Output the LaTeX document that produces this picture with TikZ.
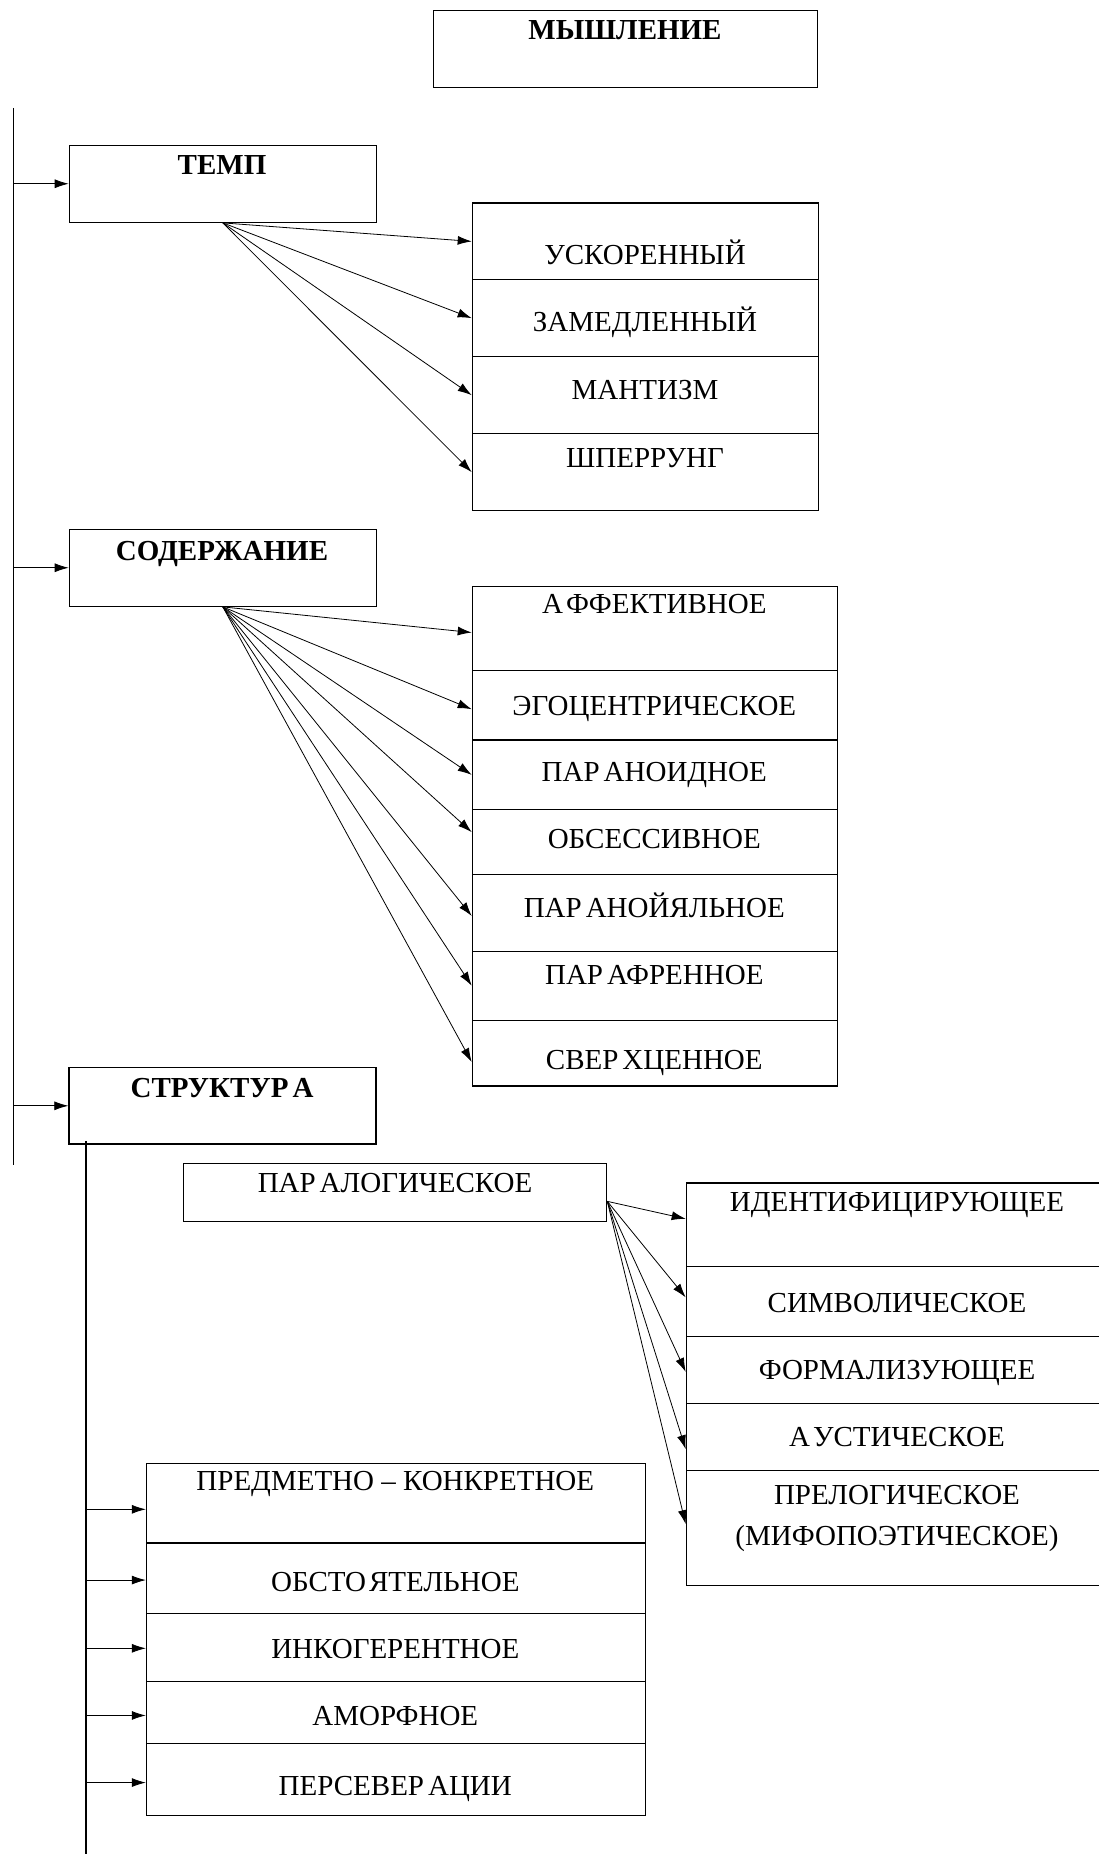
\documentclass[tikz,border=0pt]{standalone}
\usepackage{fontspec}
\setmainfont{Liberation Serif}
\usetikzlibrary{arrows.meta}
\tikzset{
  box/.style={draw, line width=1.3pt, rectangle, inner sep=0pt, anchor=north west},
  lbl/.style={anchor=base, inner sep=0pt, font=\fontsize{29}{34}\selectfont},
  blbl/.style={lbl, font=\fontsize{29}{34}\selectfont\bfseries},
  arr/.style={-{Latex[length=14pt,width=9pt]}, line width=0.8pt},
  trunk/.style={line width=1.2pt}
}
\begin{document}
\begin{tikzpicture}[x=1pt,y=-1pt]
\clip (0,0) rectangle (1099,1854);
% top box
\node[box, minimum width=384pt, minimum height=77pt] (main) at (433,10) {};
\node[blbl] (mainT) at (625,40) {МЫШЛЕНИЕ};
% trunk
\coordinate (trTop) at (13.5,108);
\coordinate (trBot) at (13.5,1165);
\draw[trunk] (trTop) -- (trBot);
% ТЕМП
\node[box, minimum width=307pt, minimum height=77pt] (temp) at (68.7,144.6) {};
\node[blbl] (tempT) at (222,175) {ТЕМП};
\draw[arr] (trTop |- temp.west) -- (temp.west);
% tempo list
\node[box, minimum width=346pt, minimum height=76.5pt] (t1) at (471.7,202.5) {};
\node[box, minimum width=346pt, minimum height=77pt] (t2) at (471.7,279) {};
\node[box, minimum width=346pt, minimum height=77pt] (t3) at (471.7,356) {};
\node[box, minimum width=346pt, minimum height=77pt] (t4) at (471.7,433) {};
\node[lbl] (t1T) at (645,264) {УСКОРЕННЫЙ};
\node[lbl] (t2T) at (645,331) {ЗАМЕДЛЕННЫЙ};
\node[lbl] (t3T) at (645,399) {МАНТИЗМ};
\node[lbl] (t4T) at (645,467) {ШПЕРРУНГ};
\foreach \n in {t1,t2,t3,t4}{\draw[arr] (temp.south) -- (\n.west);}
% СОДЕРЖАНИЕ
\node[box, minimum width=307pt, minimum height=77pt] (cont) at (68.7,528.6) {};
\node[blbl] (contT) at (222,560) {СОДЕРЖАНИЕ};
\draw[arr] (trTop |- cont.west) -- (cont.west);
% content list
\node[box, minimum width=365pt, minimum height=83.7pt] (c1) at (471.7,586) {};
\node[box, minimum width=365pt, minimum height=69.7pt] (c2) at (471.7,669.7) {};
\node[box, minimum width=365pt, minimum height=69.6pt] (c3) at (471.7,739.4) {};
\node[box, minimum width=365pt, minimum height=65pt] (c4) at (471.7,809) {};
\node[box, minimum width=365pt, minimum height=76.6pt] (c5) at (471.7,874) {};
\node[box, minimum width=365pt, minimum height=68.9pt] (c6) at (471.7,950.6) {};
\node[box, minimum width=365pt, minimum height=65.8pt] (c7) at (471.7,1019.5) {};
\node[lbl] (c1T) at (654.3,613) {А\kern3ptФФЕКТИВНОЕ};
\node[lbl] (c2T) at (654.3,715) {ЭГОЦЕНТРИЧЕСКОЕ};
\node[lbl] (c3T) at (654.3,781) {ПАР\kern4ptАНОИДНОЕ};
\node[lbl] (c4T) at (654.3,848) {ОБСЕССИВНОЕ};
\node[lbl] (c5T) at (654.3,917) {ПАР\kern4ptАНОЙЯЛЬНОЕ};
\node[lbl] (c6T) at (654.3,984) {ПАР\kern4ptАФРЕННОЕ};
\node[lbl] (c7T) at (654.3,1069) {СВЕР\kern4ptХЦЕННОЕ};
\draw[arr] (cont.south) -- ([yshift=-4pt]c1.west);
\draw[arr] (cont.south) -- ([yshift=-4pt]c2.west);
\draw[arr] (cont.south) -- (c3.west);
\draw[arr] (cont.south) -- ([yshift=10pt]c4.west);
\draw[arr] (cont.south) -- ([yshift=-3pt]c5.west);
\draw[arr] (cont.south) -- (c6.west);
\draw[arr] (cont.south) -- ([yshift=-9pt]c7.west);
% СТРУКТУРА
\node[box, minimum width=307pt, minimum height=76.3pt] (struct) at (68.3,1067) {};
\node[blbl] (structT) at (222,1097) {СТРУКТУР\kern4ptА};
\draw[arr] (trTop |- struct.west) -- (struct.west);
\coordinate (itTop) at (86,1141);
\coordinate (itBot) at (86,1854);
\draw[trunk] (itTop) -- (itBot);
% ПАРАЛОГИЧЕСКОЕ
\node[box, minimum width=423pt, minimum height=58pt] (para) at (183,1162.7) {};
\node[lbl] (paraT) at (395,1192) {ПАР\kern4ptАЛОГИЧЕСКОЕ};
\coordinate (paraO) at ([yshift=-9pt]para.east);
% paralogical list
\node[box, minimum width=422pt, minimum height=83.7pt] (r1) at (685.7,1182.3) {};
\node[box, minimum width=422pt, minimum height=69.5pt] (r2) at (685.7,1266) {};
\node[box, minimum width=422pt, minimum height=67.5pt] (r3) at (685.7,1335.5) {};
\node[box, minimum width=422pt, minimum height=67pt] (r4) at (685.7,1403) {};
\node[box, minimum width=422pt, minimum height=115pt] (r5) at (685.7,1470) {};
\node[lbl] (r1T) at (897,1211) {ИДЕНТИФИЦИРУЮЩЕЕ};
\node[lbl] (r2T) at (897,1312) {СИМВОЛИЧЕСКОЕ};
\node[lbl] (r3T) at (897,1379) {ФОРМАЛИЗУЮЩЕЕ};
\node[lbl] (r4T) at (897,1446) {А\kern3ptУСТИЧЕСКОЕ};
\node[lbl] (r5T) at (897,1504) {ПРЕЛОГИЧЕСКОЕ};
\node[lbl] (r5T2) at (897,1545) {(МИФОПОЭТИЧЕСКОЕ)};
\draw[arr] (paraO) -- ([yshift=6pt]r1.west);
\draw[arr] (paraO) -- ([yshift=4pt]r2.west);
\draw[arr] (paraO) -- ([yshift=-2pt]r3.west);
\draw[arr] (paraO) -- ([yshift=-12pt]r4.west);
\draw[arr] (paraO) -- ([yshift=4pt]r5.west);
% predmetno list
\node[box, minimum width=499pt, minimum height=79.3pt] (p1) at (145.8,1463) {};
\node[box, minimum width=499pt, minimum height=70.2pt] (p2) at (145.8,1542.3) {};
\node[box, minimum width=499pt, minimum height=68.3pt] (p3) at (145.8,1612.5) {};
\node[box, minimum width=499pt, minimum height=62pt] (p4) at (145.8,1680.8) {};
\node[box, minimum width=499pt, minimum height=72.2pt] (p5) at (145.8,1742.8) {};
\node[lbl] (p1T) at (395.3,1490) {ПРЕДМЕТНО – КОНКРЕТНОЕ};
\node[lbl] (p2T) at (395.3,1591) {ОБСТО\kern3ptЯТЕЛЬНОЕ};
\node[lbl] (p3T) at (395.3,1658) {ИНКОГЕРЕНТНОЕ};
\node[lbl] (p4T) at (395.3,1725) {АМОРФНОЕ};
\node[lbl] (p5T) at (395.3,1795) {ПЕРСЕВЕР\kern4ptАЦИИ};
\draw[arr] ([yshift=-6pt]itTop |- p1.west) -- ([yshift=-6pt]p1.west);
\draw[arr] ([yshift=-2pt]itTop |- p2.west) -- ([yshift=-2pt]p2.west);
\draw[arr] ([yshift=-1pt]itTop |- p3.west) -- ([yshift=-1pt]p3.west);
\draw[arr] ([yshift=-3pt]itTop |- p4.west) -- ([yshift=-3pt]p4.west);
\draw[arr] ([yshift=-3pt]itTop |- p5.west) -- ([yshift=-3pt]p5.west);
\end{tikzpicture}
\end{document}
